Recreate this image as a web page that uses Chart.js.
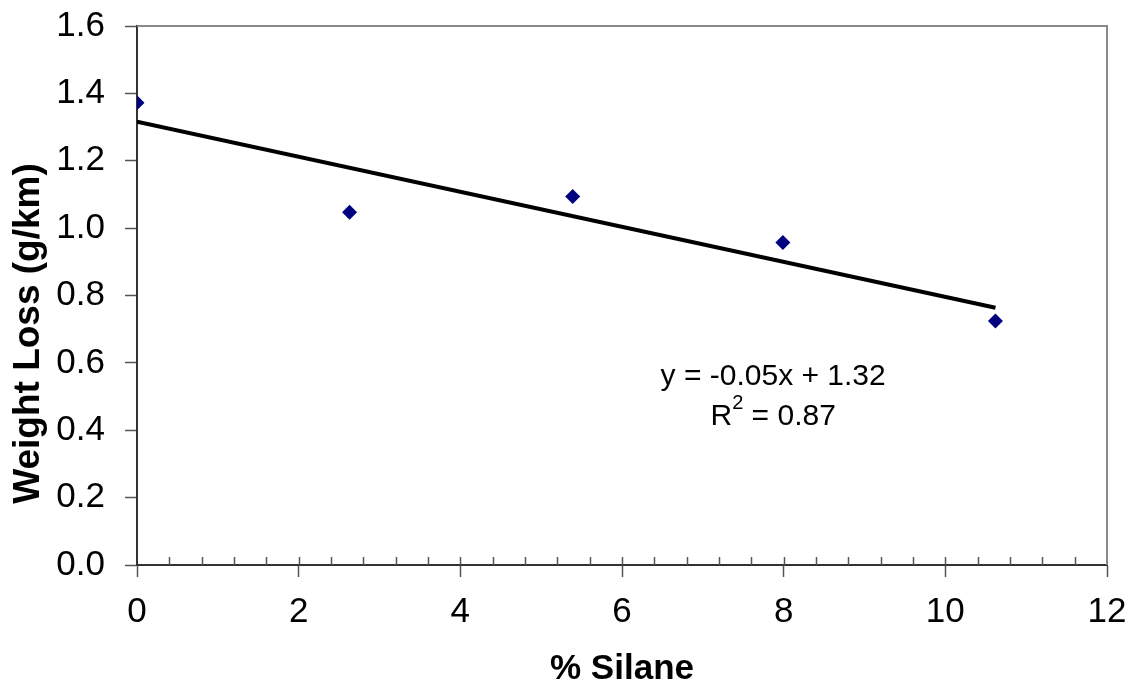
<!DOCTYPE html>
<html>
<head>
<meta charset="utf-8">
<script src="https://cdn.jsdelivr.net/npm/chart.js@4/dist/chart.umd.min.js"></script>
<style>
  html, body { margin: 0; padding: 0; background: #fff; }
  canvas { display: block; }
</style>
</head>
<body>
<canvas id="chart" width="1133" height="694"></canvas>
<script>
// measured samples
const silane = [0, 2.63, 5.39, 7.99, 10.62];
const weightLoss = [1.372, 1.047, 1.094, 0.957, 0.724];

const xTicks = [0, 2, 4, 6, 8, 10, 12];
const yTicks = [0, 0.2, 0.4, 0.6, 0.8, 1.0, 1.2, 1.4, 1.6];
const minorStep = 0.4;

const FONT = "'Liberation Sans', Arial, sans-serif";

// least squares fit for the trendline and its label
function linearFit(xs, ys) {
    const n = xs.length;
    const mx = xs.reduce((a, b) => a + b, 0) / n;
    const my = ys.reduce((a, b) => a + b, 0) / n;
    let sxx = 0, sxy = 0, syy = 0;
    for (let i = 0; i < n; i++) {
        sxx += (xs[i] - mx) * (xs[i] - mx);
        sxy += (xs[i] - mx) * (ys[i] - my);
        syy += (ys[i] - my) * (ys[i] - my);
    }
    const slope = sxy / sxx;
    return { slope, intercept: my - slope * mx, r2: (sxy * sxy) / (sxx * syy) };
}

const fit = linearFit(silane, weightLoss);
const xFrom = Math.min(...silane);
const xTo = Math.max(...silane);
const trend = [xFrom, xTo].map(x => ({ x, y: fit.intercept + fit.slope * x }));

// where the fit label sits, in data units
const labelX = 7.87;
const eqY = 0.558;
const r2Y = 0.44;

const frame = {
    id: 'frame',
    beforeDatasetsDraw(chart) {
        const { ctx, chartArea: a, scales: { x } } = chart;
        ctx.save();
        // grey plot border on top and right
        ctx.strokeStyle = '#888';
        ctx.lineWidth = 2;
        ctx.beginPath();
        ctx.moveTo(a.left, a.top);
        ctx.lineTo(a.right, a.top);
        ctx.lineTo(a.right, a.bottom);
        ctx.stroke();
        // inward tick marks along the x axis
        ctx.strokeStyle = '#555';
        ctx.lineWidth = 1.5;
        ctx.beginPath();
        for (let v = minorStep; v < 12 - 1e-6; v += minorStep) {
            const px = Math.round(x.getPixelForValue(v)) + 0.5;
            ctx.moveTo(px, a.bottom);
            ctx.lineTo(px, a.bottom - 8);
        }
        ctx.stroke();
        ctx.restore();
    },
    afterDraw(chart) {
        const { ctx, chartArea: a, scales: { x, y } } = chart;
        ctx.save();
        ctx.fillStyle = '#000';
        ctx.textBaseline = 'middle';
        const eq = 'y = ' + fit.slope.toFixed(2) + 'x + ' + fit.intercept.toFixed(2);
        ctx.font = '30px ' + FONT;
        ctx.textAlign = 'center';
        const cx = x.getPixelForValue(labelX);
        ctx.fillText(eq, cx, y.getPixelForValue(eqY));

        // R² with a raised 2
        const rest = ' = ' + fit.r2.toFixed(2);
        const wR = ctx.measureText('R').width;
        ctx.font = '20px ' + FONT;
        const w2 = ctx.measureText('2').width;
        ctx.font = '30px ' + FONT;
        const wRest = ctx.measureText(rest).width;
        const sx = cx - (wR + w2 + wRest) / 2;
        const ry = y.getPixelForValue(r2Y);
        ctx.textAlign = 'left';
        ctx.fillText('R', sx, ry);
        ctx.font = '20px ' + FONT;
        ctx.fillText('2', sx + wR, ry - 13);
        ctx.font = '30px ' + FONT;
        ctx.fillText(rest, sx + wR + w2, ry);

        // vertical axis title
        ctx.font = 'bold 37px ' + FONT;
        ctx.textAlign = 'center';
        ctx.translate(29, (a.top + a.bottom) / 2 + 38);
        ctx.rotate(-Math.PI / 2);
        ctx.fillText('Weight Loss (g/km)', 0, 0);
        ctx.restore();
    }
};

new Chart(document.getElementById('chart'), {
    type: 'scatter',
    data: {
        datasets: [
            {
                label: 'Weight Loss',
                data: silane.map((x, i) => ({ x, y: weightLoss[i] })),
                pointStyle: 'rectRot',
                pointRadius: 7.5,
                pointHoverRadius: 7.5,
                backgroundColor: '#000080',
                borderColor: '#000080',
                borderWidth: 0,
                order: 1
            },
            {
                type: 'line',
                label: 'Linear fit',
                data: trend,
                borderColor: '#000',
                borderWidth: 4,
                pointRadius: 0,
                fill: false,
                order: 2
            }
        ]
    },
    options: {
        responsive: false,
        animation: false,
        events: [],
        layout: { padding: { top: 26, right: 26, left: 0, bottom: 0 } },
        plugins: {
            legend: { display: false },
            tooltip: { enabled: false }
        },
        scales: {
            x: {
                type: 'linear',
                min: 0,
                max: 12,
                afterBuildTicks: s => { s.ticks = xTicks.map(value => ({ value })); },
                afterFit: s => {
                    s.height = 129;
                    s.paddingLeft = 0;
                    s.paddingRight = 0;
                },
                ticks: {
                    font: { family: FONT, size: 35 },
                    color: '#000',
                    padding: 14
                },
                grid: {
                    drawOnChartArea: false,
                    tickLength: 12,
                    tickColor: '#555',
                    tickWidth: 1.5
                },
                border: { color: '#333', width: 2 },
                title: {
                    display: true,
                    text: '% Silane',
                    font: { family: FONT, size: 35, weight: 'bold' },
                    color: '#000',
                    padding: { top: 0, bottom: 4 }
                }
            },
            y: {
                type: 'linear',
                min: 0,
                max: 1.6,
                afterBuildTicks: s => { s.ticks = yTicks.map(value => ({ value })); },
                afterFit: s => {
                    s.width = 137;
                    s.paddingTop = 0;
                    s.paddingBottom = 0;
                },
                ticks: {
                    font: { family: FONT, size: 35 },
                    color: '#000',
                    padding: 20,
                    callback: v => v.toFixed(1)
                },
                grid: {
                    drawOnChartArea: false,
                    tickLength: 12,
                    tickColor: '#555',
                    tickWidth: 1.5
                },
                border: { color: '#333', width: 2 }
            }
        }
    },
    plugins: [frame]
});
</script>
</body>
</html>
